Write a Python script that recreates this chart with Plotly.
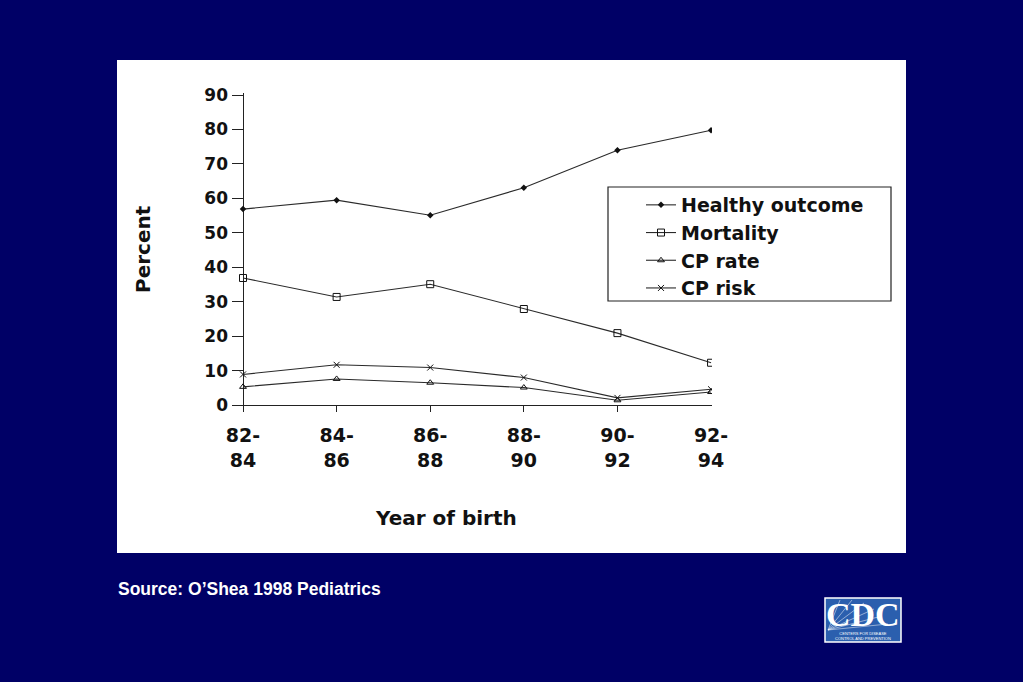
import plotly.graph_objects as go

categories = ["82-<br>84", "84-<br>86", "86-<br>88", "88-<br>90", "90-<br>92", "92-<br>94"]
healthy = [56.9, 59.5, 55.1, 63.1, 74.0, 79.8]
mortality = [36.9, 31.4, 35.1, 27.9, 20.9, 12.3]
cp_rate = [5.3, 7.6, 6.5, 5.1, 1.4, 3.8]
cp_risk = [8.9, 11.7, 10.9, 8.0, 2.1, 4.6]
y_ticks = [0, 10, 20, 30, 40, 50, 60, 70, 80, 90]

W, H = 1023, 682
L, R, T, B = 232, 712, 93, 412  # plot area in pixels


def px(x):
    return (x - L) / (R - L)


def py(y):
    return (B - y) / (B - T)


xs = list(range(len(categories)))
FONT = "Liberation Sans, Arial, sans-serif"
WIDE = "DejaVu Sans, Verdana, sans-serif"
INK = "#111111"

fig = go.Figure()
series = [
    ("Healthy outcome", healthy, dict(symbol="diamond", size=5, color=INK)),
    ("Mortality", mortality, dict(symbol="square-open", size=7, color=INK, line=dict(width=1, color=INK))),
    ("CP rate", cp_rate, dict(symbol="triangle-up-open", size=6, color=INK, line=dict(width=1, color=INK))),
    ("CP risk", cp_risk, dict(symbol="x-thin-open", size=6, color=INK, line=dict(width=1, color=INK))),
]
for name, vals, mk in series:
    fig.add_trace(go.Scatter(
        x=xs, y=vals, name=name, mode="lines+markers",
        line=dict(color="#2a2a2a", width=1.1), marker=mk,
    ))

shapes = [
    # white panel
    dict(type="rect", xref="paper", yref="paper", x0=px(117), x1=px(906), y0=py(553), y1=py(60),
         fillcolor="white", line=dict(width=0), layer="below"),
    # legend box
    dict(type="rect", xref="paper", yref="paper", x0=px(608), x1=px(891), y0=py(301), y1=py(187),
         fillcolor="rgba(0,0,0,0)", line=dict(width=1.2, color="#222222"), layer="above"),
    # CDC logo
    dict(type="rect", xref="paper", yref="paper", x0=px(825), x1=px(901), y0=py(642), y1=py(598),
         fillcolor="#2b5fae", line=dict(width=1.5, color="white"), layer="above"),
]
# logo rays fanning from lower left
for ex, ey in [(840, 600), (852, 600), (864, 603), (874, 609), (882, 616), (888, 624)]:
    shapes.append(dict(type="line", xref="paper", yref="paper",
                       x0=px(828), y0=py(630), x1=px(ex), y1=py(ey),
                       line=dict(width=0.7, color="rgba(255,255,255,0.7)"), layer="above"))

annotations = [
    dict(text="Year of birth", xref="paper", yref="paper", x=px(446), y=py(518), showarrow=False,
         xanchor="center", yanchor="middle", font=dict(family=WIDE, size=20, color=INK, weight="bold")),
    dict(text="Percent", xref="paper", yref="paper", x=px(143), y=py(249), showarrow=False, textangle=-90,
         xanchor="center", yanchor="middle", font=dict(family=WIDE, size=20, color=INK, weight="bold")),
    dict(text="Source: O’Shea 1998 Pediatrics", xref="paper", yref="paper", x=px(116), y=py(589),
         showarrow=False, xanchor="left", yanchor="middle",
         font=dict(family=FONT, size=17.5, color="white", weight="bold")),
    dict(text="CDC", xref="paper", yref="paper", x=px(863), y=py(614), showarrow=False,
         xanchor="center", yanchor="middle",
         font=dict(family="Liberation Serif, Times New Roman, serif", size=34, color="white", weight="bold")),
    dict(text="CENTERS FOR DISEASE<br>CONTROL AND PREVENTION", xref="paper", yref="paper", x=px(863), y=py(636),
         showarrow=False, xanchor="center", yanchor="middle",
         font=dict(family=FONT, size=4, color="white")),
]

fig.update_layout(
    width=W, height=H,
    margin=dict(l=L, r=W - R, t=T, b=H - B, pad=0),
    paper_bgcolor="#000066", plot_bgcolor="rgba(0,0,0,0)",
    showlegend=True,
    legend=dict(x=px(641), y=py(186), xanchor="left", yanchor="top", bgcolor="rgba(0,0,0,0)",
                borderwidth=0, font=dict(family=WIDE, size=19, color=INK, weight="bold"),
                itemwidth=30, tracegroupgap=0),
    shapes=shapes, annotations=annotations,
)
fig.update_xaxes(range=[-0.1175, 5.01], tickvals=xs, ticktext=categories, showgrid=False,
                 zeroline=True, zerolinecolor="#222222", zerolinewidth=1.2, showline=False,
                 ticks="inside", ticklen=7, tickcolor="#222222", ticklabelstandoff=10,
                 tickfont=dict(family=WIDE, size=19, color=INK, weight="bold"))
fig.update_yaxes(range=[-2, 90.6], tickvals=y_ticks, showgrid=False,
                 zeroline=True, zerolinecolor="#222222", zerolinewidth=1.2, showline=False,
                 ticks="inside", ticklen=11, tickcolor="#222222", ticklabelstandoff=3,
                 tickfont=dict(family=WIDE, size=17, color=INK, weight="bold"))

fig.write_html(
    "out.html",
    config={"displayModeBar": False},
    post_script="document.body.style.margin='0';document.body.style.background='#000066';",
)
